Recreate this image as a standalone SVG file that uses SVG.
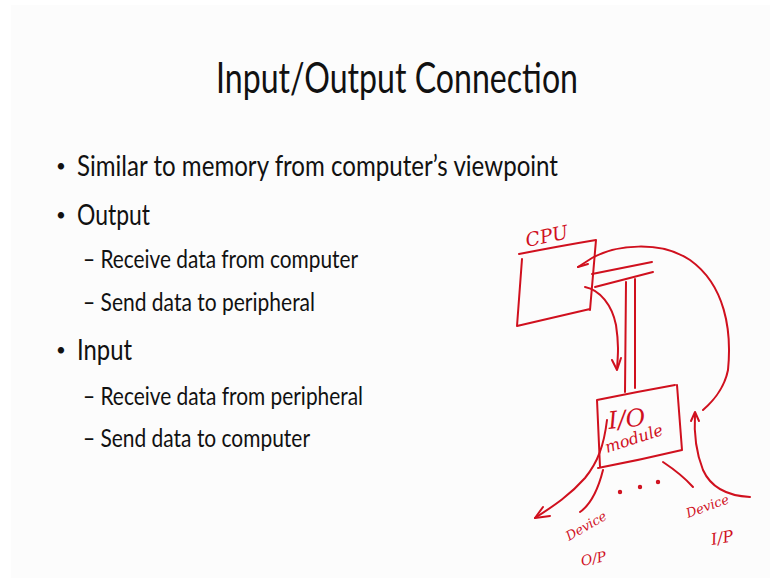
<svg xmlns="http://www.w3.org/2000/svg" width="770" height="578" viewBox="0 0 770 578">
  <style>
    .slide { font-family: Lato, "Liberation Sans", sans-serif; fill: #111; }
    .title { font-size: 43px; }
    .l1 { font-size: 28px; }
    .l2 { font-size: 24.5px; }
    .dot { font-size: 17px; }
    .ink { fill: none; stroke: #d0101e; stroke-width: 2; stroke-linecap: round; stroke-linejoin: round; }
    .hand { font-family: "DejaVu Serif", "Liberation Serif", serif; font-style: italic; fill: #d0101e; }
  </style>

  <!-- slide background -->
  <rect x="0" y="0" width="770" height="578" fill="#ffffff"/>
  <rect x="11" y="5" width="759" height="573" fill="#fcfcfc"/>

  <!-- slide text -->
  <g id="slide-text" class="slide">
    <text class="title" x="216" y="93" textLength="362" lengthAdjust="spacingAndGlyphs">Input/Output Connection</text>
    <text class="dot" x="56" y="172">•</text>
    <text class="l1" x="77" y="176" textLength="481" lengthAdjust="spacingAndGlyphs">Similar to memory from computer’s viewpoint</text>
    <text class="dot" x="56" y="221">•</text>
    <text class="l1" x="77" y="225" textLength="73" lengthAdjust="spacingAndGlyphs">Output</text>
    <text class="l2" x="83" y="268" textLength="275" lengthAdjust="spacingAndGlyphs">– Receive data from computer</text>
    <text class="l2" x="83" y="311" textLength="232" lengthAdjust="spacingAndGlyphs">– Send data to peripheral</text>
    <text class="dot" x="56" y="356">•</text>
    <text class="l1" x="77" y="360" textLength="55" lengthAdjust="spacingAndGlyphs">Input</text>
    <text class="l2" x="83" y="405" textLength="280" lengthAdjust="spacingAndGlyphs">– Receive data from peripheral</text>
    <text class="l2" x="83" y="447" textLength="227" lengthAdjust="spacingAndGlyphs">– Send data to computer</text>
  </g>

  <!-- CPU box -->
  <g id="cpu">
    <path class="ink" d="M519,254 Q560,246 596,240 L590,310 M517,326 Q555,317 590,309 M522,259 L517,326"/>
    <text class="hand" x="0" y="0" font-size="19" transform="translate(527,247) rotate(-12)">CPU</text>
  </g>

  <!-- I/O module box -->
  <g id="io-module">
    <path class="ink" d="M597,400 Q636,392 675,385 M677,385 L682,450 Q640,460 598,468 M597,400 L600,467"/>
    <text class="hand" x="0" y="0" font-size="24" transform="translate(609,429) rotate(-6)">I/O</text>
    <text class="hand" x="0" y="0" font-size="16" transform="translate(607,453) rotate(-18)">module</text>
  </g>

  <!-- devices -->
  <g id="device-output">
    <text class="hand" x="0" y="0" font-size="13" transform="translate(569,541) rotate(-30)">Device</text>
    <text class="hand" x="0" y="0" font-size="14" transform="translate(582,566) rotate(-12)">O/P</text>
  </g>
  <g id="device-input">
    <text class="hand" x="0" y="0" font-size="13" transform="translate(688,518) rotate(-20)">Device</text>
    <text class="hand" x="0" y="0" font-size="16" transform="translate(712,545) rotate(-10)">I/P</text>
  </g>

  <!-- connectors -->
  <g id="connectors" class="ink">
    <!-- data into CPU -->
    <path d="M578,267 L592,258 C615,245 660,240 690,260 C725,285 732,330 728,370 C724,390 712,402 703,410"/>
    <path d="M578,267 L588,264"/>
    <!-- bus -->
    <path d="M592,274 L652,262"/>
    <path d="M595,287 L653,272"/>
    <path d="M626,282 L625,392"/>
    <path d="M635,279 L635,388"/>
    <!-- data out of CPU -->
    <path d="M585,287 C600,290 612,305 616,325 C619,345 618,355 617,369"/>
    <path d="M612,360 L617,370 L621,358"/>
    <!-- input device to module -->
    <path d="M750,497 C730,496 712,490 703,470 C695,450 694,430 695,413"/>
    <path d="M691,421 L695,412 L699,421"/>
    <!-- module to output device -->
    <path d="M607,420 C604,445 598,462 585,478 C570,495 555,505 535,518"/>
    <path d="M535,518 L543,507 M535,518 L550,516"/>
    <path d="M603,470 C598,490 590,505 580,512"/>
    <path d="M663,462 C675,470 685,478 693,487"/>
    <!-- more devices -->
    <circle cx="620" cy="492" r="1.2"/>
    <circle cx="640" cy="487" r="1.2"/>
    <circle cx="658" cy="482" r="1.2"/>
  </g>
</svg>
